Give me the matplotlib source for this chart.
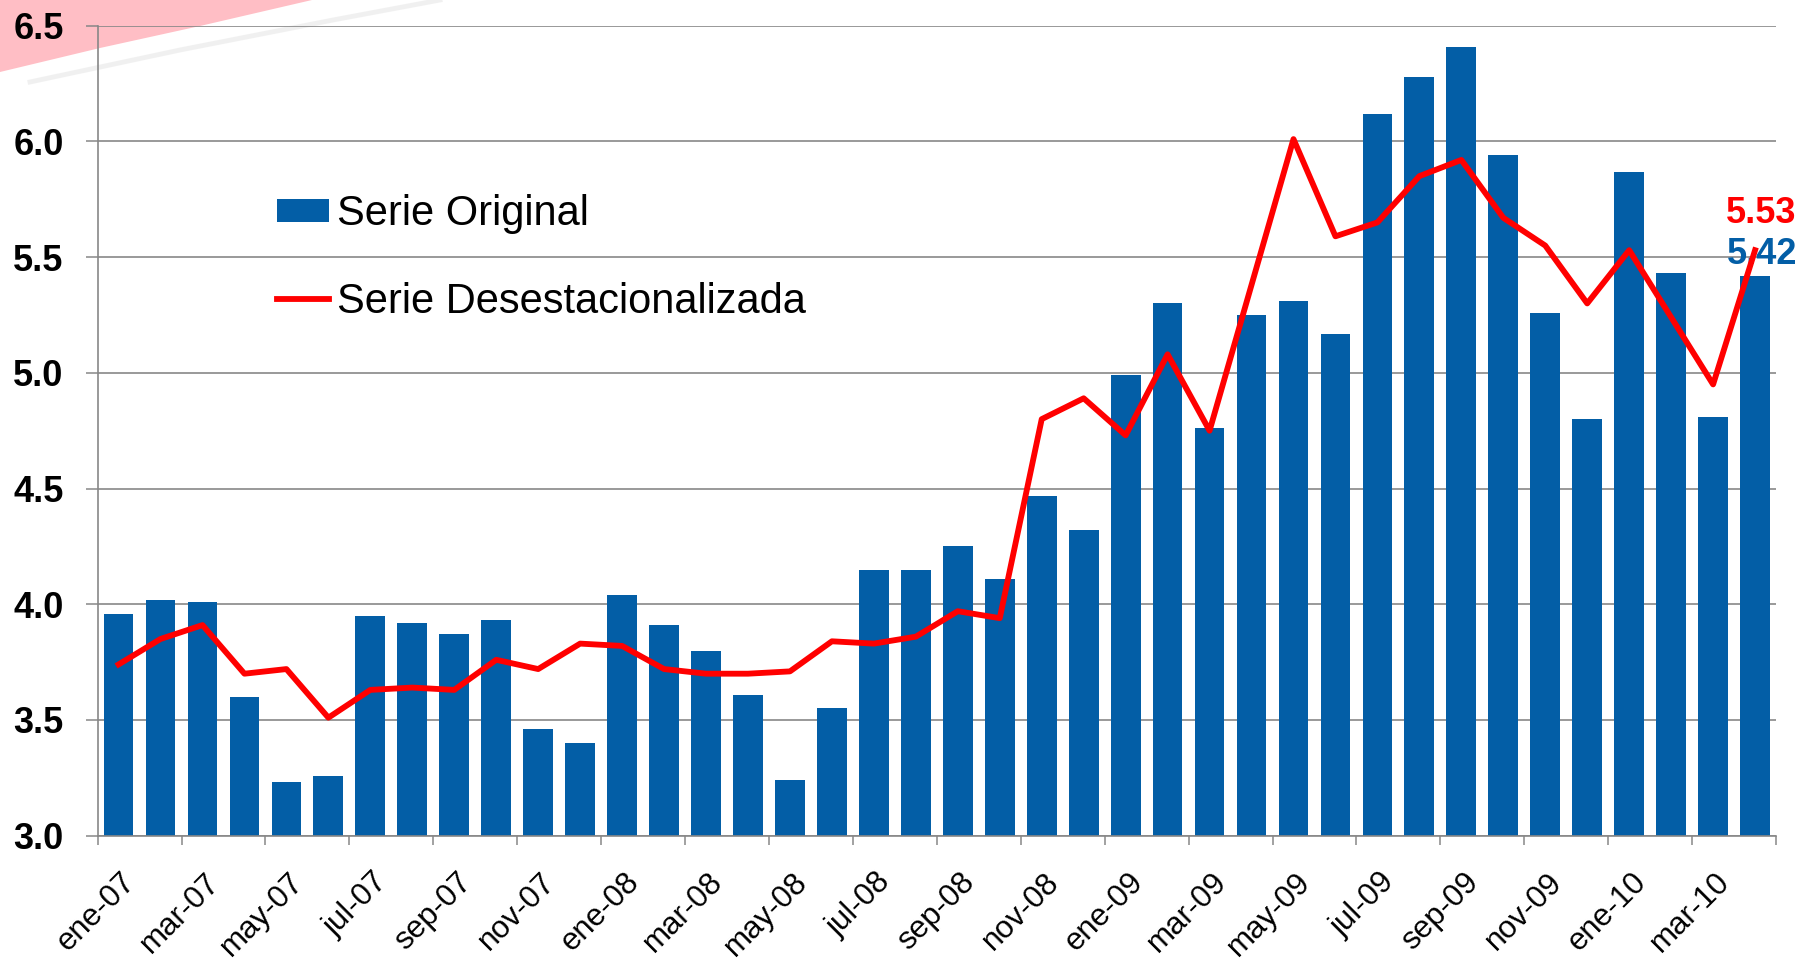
"""
Desempleo mensual: serie original (barras) vs serie desestacionalizada (línea).
ene-07 a abr-10.
"""

import numpy as np
import matplotlib.pyplot as plt
from matplotlib.patches import Polygon
from matplotlib.lines import Line2D
from matplotlib.transforms import ScaledTranslation

plt.rcParams['font.family'] = ['Liberation Sans', 'DejaVu Sans']

BLUE = '#035EA6'
RED = '#FF0000'
GRID = '#878787'

# --- Data ---
serie_original = [3.96, 4.02, 4.01, 3.60, 3.23, 3.26, 3.95, 3.92, 3.87, 3.93, 3.46, 3.40,
                  4.04, 3.91, 3.80, 3.61, 3.24, 3.55, 4.15, 4.15, 4.25, 4.11, 4.47, 4.32,
                  4.99, 5.30, 4.76, 5.25, 5.31, 5.17, 6.12, 6.28, 6.41, 5.94, 5.26, 4.80,
                  5.87, 5.43, 4.81, 5.42]
serie_desest = [3.74, 3.85, 3.91, 3.70, 3.72, 3.51, 3.63, 3.64, 3.63, 3.76, 3.72, 3.83,
                3.82, 3.72, 3.70, 3.70, 3.71, 3.84, 3.83, 3.86, 3.97, 3.94, 4.80, 4.89,
                4.73, 5.08, 4.75, 5.38, 6.01, 5.59, 5.65, 5.85, 5.92, 5.67, 5.55, 5.30,
                5.53, 5.24, 4.95, 5.53]
tick_labels = ['ene-07', 'mar-07', 'may-07', 'jul-07', 'sep-07', 'nov-07',
               'ene-08', 'mar-08', 'may-08', 'jul-08', 'sep-08', 'nov-08',
               'ene-09', 'mar-09', 'may-09', 'jul-09', 'sep-09', 'nov-09',
               'ene-10', 'mar-10']
y_ticks = [3.0, 3.5, 4.0, 4.5, 5.0, 5.5, 6.0, 6.5]

x = np.arange(len(serie_original))

fig = plt.figure(figsize=(18.04, 9.63), dpi=100, facecolor='white')

# pink slide decoration in the top-left corner (pixel coords, origin top-left)
W, H = 1804, 963
deco = [(0, 0), (312, 0), (200, 26), (100, 48), (0, 72)]
fig.patches.append(Polygon([(px / W, 1 - py / H) for px, py in deco], closed=True,
                           transform=fig.transFigure, facecolor='#FFBEC5',
                           edgecolor='none', zorder=-2))
streak = [(30, 82), (180, 50), (333, 20), (440, 0)]
fig.lines.append(Line2D([p[0] / W for p in streak], [1 - p[1] / H for p in streak],
                        transform=fig.transFigure, color='#EBEBEB', lw=3.5, alpha=0.7,
                        zorder=-1))

ax = fig.add_axes([0.0541, 0.1322, 0.9304, 0.8411])
ax.set_facecolor('none')

bars = ax.bar(x, serie_original, width=0.71, color=BLUE, zorder=2)
line, = ax.plot(x, serie_desest, color=RED, lw=4.2, zorder=3)

ax.set_xlim(-0.5, len(x) - 0.5)
ax.set_ylim(3.0, 6.5)

# y axis
ax.set_yticks(y_ticks)
ax.set_yticklabels([f'{v:.1f}' for v in y_ticks], fontsize=26, fontweight='bold')
ax.tick_params(axis='y', length=8.4, width=1.1, color=GRID, pad=16)
ax.yaxis.grid(True, color=GRID, lw=1.2)
ax.set_axisbelow(True)

# x axis: tick marks between month pairs, labels under every other month
ax.set_xticks(np.arange(-0.5, len(x), 2))
ax.set_xticklabels([])
ax.tick_params(axis='x', which='major', length=6.7, width=1.1, color=GRID)
ax.set_xticks(np.arange(0, len(x), 2), minor=True)
ax.set_xticklabels(tick_labels, minor=True, rotation=45, ha='right', va='center',
                   rotation_mode='anchor', fontsize=22.5)
ax.tick_params(axis='x', which='minor', length=0, pad=30.3)
for lbl in ax.get_xticklabels(minor=True):
    lbl.set_transform(lbl.get_transform() + ScaledTranslation(12.7 / 100, 0, fig.dpi_scale_trans))

for side in ['top', 'right']:
    ax.spines[side].set_visible(False)
for side in ['left', 'bottom']:
    ax.spines[side].set_color(GRID)
    ax.spines[side].set_linewidth(1.2)

# end-of-series labels
ax.annotate(f'{serie_desest[-1]:.2f}', xy=(x[-1], serie_desest[-1]), xytext=(4.5, 26.5),
            textcoords='offset points', color=RED, fontsize=26, fontweight='bold',
            ha='center', va='center', annotation_clip=False, zorder=4)
ax.annotate(f'{serie_original[-1]:.2f}', xy=(x[-1], serie_original[-1]), xytext=(5, 15.5),
            textcoords='offset points', color=BLUE, fontsize=26, fontweight='bold',
            ha='center', va='center', annotation_clip=False, zorder=2.5)

ax.legend([bars, line], ['Serie Original', 'Serie Desestacionalizada'],
          loc='center left', bbox_to_anchor=(277 / W, 1 - 258 / H),
          bbox_transform=fig.transFigure, frameon=False, fontsize=30,
          handlelength=1.25, handleheight=0.5, handletextpad=0.2,
          labelspacing=1.14, borderpad=0, borderaxespad=0)

fig.savefig('out.png', dpi=100, facecolor='white')
